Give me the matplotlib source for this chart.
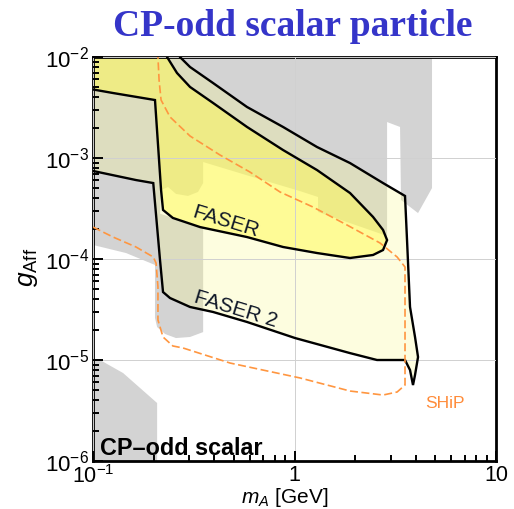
import matplotlib.pyplot as plt

plt.rcParams.update({
    'font.family': ['Liberation Sans', 'DejaVu Sans'],
    'mathtext.fontset': 'custom',
    'mathtext.rm': 'Liberation Sans',
    'mathtext.it': 'Liberation Sans:italic',
    'mathtext.bf': 'Liberation Sans:bold',
})

# --- existing constraints (gray) ---
gray_top_m = [0.09, 4.813, 4.813, 4.102, 3.377, 3.34, 2.88, 2.88, 1.308, 1.308, 1.065,
              0.601, 0.352, 0.352, 0.332, 0.296, 0.258, 0.2357, 0.2176, 0.2127, 0.203,
              0.1458, 0.1, 0.09]
gray_top_g = [0.012, 0.012, 5.04e-4, 2.85e-4, 3.84e-4, 2.03e-3, 2.27e-3, 1.69e-4, 2.92e-4,
              4.11e-4, 4.70e-4, 6.60e-4, 9.12e-4, 5.65e-4, 4.61e-4, 4.21e-4, 4.41e-4,
              5.16e-4, 4.82e-4, 1.54e-4, 8.73e-5, 1.146e-4, 1.377e-4, 1.45e-4]

gray_strip_m = [0.203, 0.352, 0.352, 0.303, 0.258, 0.2277, 0.208, 0.203]
gray_strip_g = [2.92e-4, 2.03e-4, 1.89e-5, 1.69e-5, 1.65e-5, 1.81e-5, 2.12e-5, 2.61e-5]

gray_low_m = [0.09, 0.1083, 0.141, 0.208, 0.208, 0.09]
gray_low_g = [1.08e-5, 1.0e-5, 7.43e-6, 3.75e-6, 9e-7, 9e-7]

# --- FASER 2 reach ---
faser2_m = [0.09, 0.265, 0.270, 0.303, 0.394, 0.581, 0.877, 1.293, 1.886, 2.75, 3.535,
            3.617, 3.743, 3.963, 4.102, 3.963, 3.873, 3.743, 3.535, 2.567, 1.886, 1.006,
            0.581, 0.394, 0.303, 0.241, 0.2225, 0.215, 0.199, 0.1634, 0.09]
faser2_g = [0.012, 0.012, 1.0e-2, 7.96e-3, 5.53e-3, 3.20e-3, 2.03e-3, 1.285e-3, 8.91e-4,
            5.65e-4, 4.21e-4, 1.54e-4, 3.35e-5, 1.69e-5, 1.07e-5, 7.10e-6, 5.65e-6,
            7.96e-6, 1.0e-5, 1.0e-5, 1.17e-5, 1.65e-5, 2.38e-5, 2.99e-5, 3.35e-5,
            4.11e-5, 4.71e-5, 9.77e-5, 5.65e-4, 6.05e-4, 7.78e-4]

# --- FASER reach ---
faser_m = [0.09, 0.233, 0.233, 0.261, 0.303, 0.394, 0.581, 0.877, 1.293, 1.886, 2.453,
           2.75, 2.88, 2.75, 2.453, 1.886, 1.293, 0.877, 0.581, 0.340, 0.249, 0.2225,
           0.2176, 0.203, 0.1257, 0.09]
faser_g = [0.012, 0.012, 1.0e-2, 6.95e-3, 5.05e-3, 3.51e-3, 2.03e-3, 1.20e-3, 7.60e-4,
           4.50e-4, 2.61e-4, 1.94e-4, 1.54e-4, 1.227e-4, 1.096e-4, 1.023e-4, 1.146e-4,
           1.315e-4, 1.65e-4, 2.07e-4, 2.55e-4, 3.06e-4, 4.82e-4, 3.75e-3, 4.40e-3,
           4.95e-3]

# --- SHiP (dashed) ---
ship_m = [0.1, 0.1257, 0.1634, 0.199, 0.2055, 0.210, 0.210, 0.2225, 0.249, 0.2797, 0.479,
          1.065, 1.886, 2.75, 3.23, 3.535, 3.535, 3.23, 2.657, 1.822, 1.235, 0.847,
          0.601, 0.427, 0.303, 0.241, 0.2176, 0.2127, 0.210]
ship_g = [2.07e-4, 1.65e-4, 1.315e-4, 1.047e-4, 9.12e-5, 5.28e-5, 2.49e-5, 1.69e-5,
          1.377e-5, 1.315e-5, 9.33e-6, 6.64e-6, 4.93e-6, 4.50e-6, 4.82e-6, 5.65e-6,
          8.33e-5, 1.047e-4, 1.44e-4, 2.17e-4, 3.27e-4, 4.61e-4, 7.26e-4, 1.07e-3,
          1.65e-3, 2.55e-3, 3.75e-3, 5.91e-3, 1.0e-2]

xticks = [0.1, 1, 10]
xtick_labels = ['$10^{-1}$', '1', '10']
yticks = [1e-6, 1e-5, 1e-4, 1e-3, 1e-2]
ytick_labels = ['$10^{-6}$', '$10^{-5}$', '$10^{-4}$', '$10^{-3}$', '$10^{-2}$']

# %%
fig = plt.figure(figsize=(5.14, 5.09), dpi=100)
ax = fig.add_axes([0.181, 0.0943, 0.784, 0.7937])
ax.set_xscale('log')
ax.set_yscale('log')
ax.set_xlim(0.1, 10)
ax.set_ylim(1e-6, 1e-2)

gray = '#d3d3d3'
for m, g in [(gray_top_m, gray_top_g), (gray_strip_m, gray_strip_g), (gray_low_m, gray_low_g)]:
    ax.fill(m, g, color=gray, lw=0, zorder=1)

ax.fill(faser2_m, faser2_g, facecolor=(0.98, 0.98, 0.55, 0.28), lw=0, zorder=1.2)
ax.fill(faser_m, faser_g, facecolor=(1.0, 0.98, 0.31, 0.5), lw=0, zorder=1.4)
ax.fill(faser2_m, faser2_g, fill=False, edgecolor='k', lw=1.7, zorder=3)
ax.fill(faser_m, faser_g, fill=False, edgecolor='k', lw=1.7, zorder=3)

ax.plot(ship_m, ship_g, color='#ff9640', lw=1.2, dashes=(4.8, 2.1), zorder=4)

ax.grid(True, which='major', color='#d0d0d0', lw=0.7)
ax.set_axisbelow(False)

ax.set_xticks(xticks)
ax.set_xticklabels(xtick_labels)
ax.set_yticks(yticks)
ax.set_yticklabels(ytick_labels)
ax.tick_params(which='both', direction='in', top=False, right=False, width=1.4,
               labelsize=16, pad=3)
ax.tick_params(axis='x', labelsize=15.5, pad=3)
ax.tick_params(which='major', length=7)
ax.tick_params(which='minor', length=4)
for lab in ax.get_yticklabels():
    lab.set_va('center_baseline')
for s in ax.spines.values():
    s.set_linewidth(2)

ax.set_xlabel('$m_A$ [GeV]', fontsize=15)
ax.xaxis.set_label_coords(0.475, -0.104)
ax.xaxis.label.set_va('baseline')
ax.set_ylabel(r'$g_{\mathrm{Aff}}$', fontsize=19)
ax.yaxis.set_label_coords(-0.161, 0.48)
ax.yaxis.label.set_va('center')

ax.text(0.457, 2.32e-4, 'FASER', fontsize=15, rotation=-17, rotation_mode='anchor',
        ha='center', va='center', color='#101828', zorder=5)
ax.text(0.5125, 3.2e-5, 'FASER 2', fontsize=15, rotation=-17, rotation_mode='anchor',
        ha='center', va='center', color='#101828', zorder=5)
ax.text(5.58, 3.75e-6, 'SHiP', fontsize=12.5, ha='center', va='center',
        color='#ff8c3a', zorder=5)
ax.text(0.017, 0.015, 'CP\u2013odd scalar', transform=ax.transAxes, fontsize=16.8,
        fontweight='bold', ha='left', va='baseline', zorder=5)

fig.text(0.57, 0.929, 'CP-odd scalar particle', family='Liberation Serif',
         fontweight='bold', fontsize=27, color='#3535c9', ha='center', va='baseline')

fig.savefig('out.png', dpi=100)
